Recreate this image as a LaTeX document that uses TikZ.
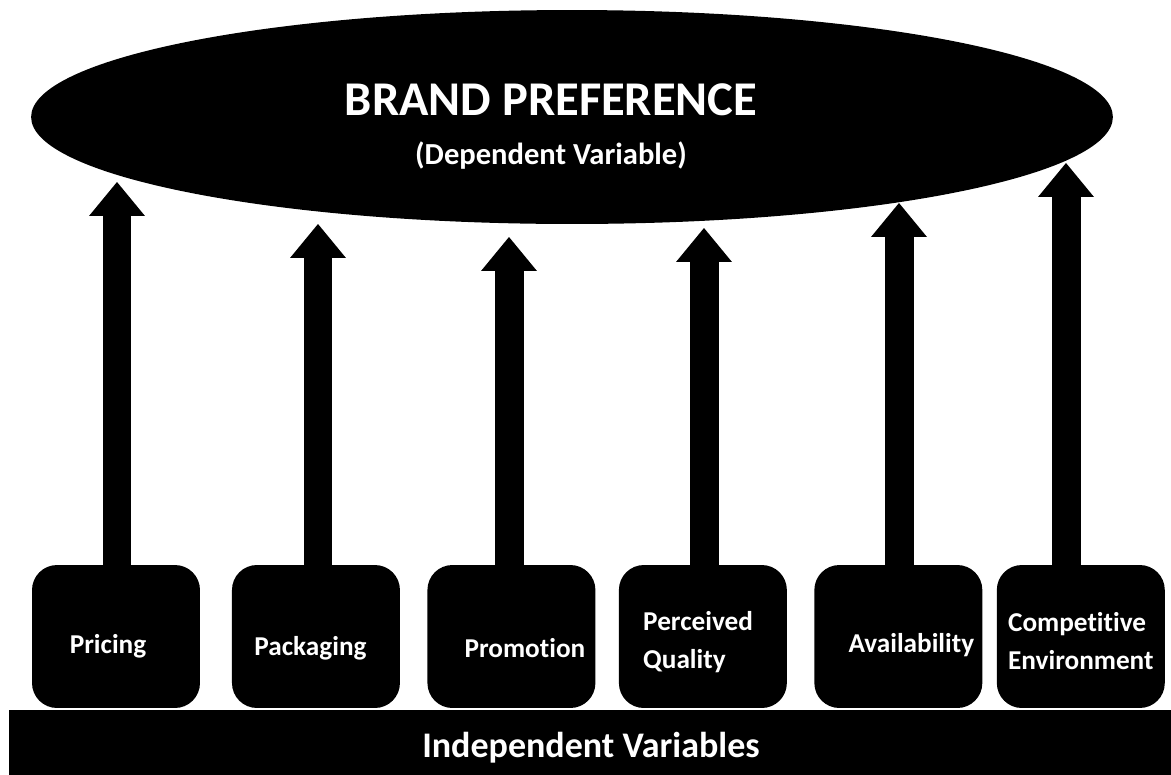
\documentclass[tikz,border=0pt]{standalone}
\usepackage{fontspec}
\setmainfont{Carlito}[Ligatures=NoCommon]
\usetikzlibrary{shapes.geometric, arrows.meta, positioning}
\tikzstyle{goal} = [ellipse, fill=black, minimum width=21.64cm, minimum height=4.28cm, inner sep=0pt]
\tikzstyle{factor} = [rectangle, rounded corners=0.5cm, fill=black, minimum width=3.36cm, minimum height=2.86cm, inner sep=0pt]
\tikzstyle{basebar} = [rectangle, fill=black, minimum width=23.24cm, minimum height=1.3cm, inner sep=0pt]
\tikzstyle{lbl} = [text=white, font=\fontsize{15.5}{21.5}\selectfont\bfseries, inner sep=0pt, align=left]
\tikzstyle{uparrow} = [line width=0.58cm, -{Triangle[width=1.12cm,length=0.68cm,line width=0pt]}]

\begin{document}
\begin{tikzpicture}[x=0.02cm, y=-0.02cm, node distance=4cm, on grid]
	\useasboundingbox (0,0) rectangle (1171,775);
	% dependent variable
	\node[goal] (bp) at (572,117) {};
	\node[lbl, font=\fontsize{27.6}{32}\selectfont\bfseries, anchor=base] (bp_t) at (551,115) {BRAND PREFERENCE};
	\node[lbl, font=\fontsize{17.4}{21}\selectfont\bfseries, anchor=base] (bp_s) at (551,164) {(Dependent Variable)};
	% independent variables
	\node[basebar] (iv) at (590,742.5) {};
	\node[lbl, font=\fontsize{20.5}{24}\selectfont\bfseries, anchor=base] (iv_t) at (591,757) {Independent Variables};
	\node[factor] (f_1) at (116,636.5) {};
	\node[factor][right=of f_1] (f_2) {};
	\node[factor][right=3.91cm of f_2] (f_3) {};
	\node[factor][right=3.83cm of f_3] (f_4) {};
	\node[factor][right=3.91cm of f_4] (f_5) {};
	\node[factor][right=3.65cm of f_5] (f_6) {};
	\node[lbl, anchor=base] (l_1) at ([shift={(-8,16.5)}]f_1.center) {Pricing};
	\node[lbl, anchor=base] (l_2) at ([shift={(-5.5,18.5)}]f_2.center) {Packaging};
	\node[lbl, anchor=base] (l_3) at ([shift={(13.5,20.5)}]f_3.center) {Promotion};
	\node[lbl, anchor=north west] (l_4) at ([shift={(-60,-25)}]f_4.center) {Perceived\\Quality};
	\node[lbl, anchor=base] (l_5) at ([shift={(13,15.5)}]f_5.center) {Availability};
	\node[lbl, anchor=north west] (l_6) at ([shift={(-73,-24)}]f_6.center) {Competitive\\Environment};
	% arrow tips
	\coordinate (t_1) at (117,182);
	\coordinate (t_2) at (318,224);
	\coordinate (t_3) at (509,237);
	\coordinate (t_4) at (704,228);
	\coordinate (t_5) at (899,203);
	\coordinate (t_6) at (1066,163);
	\path[uparrow]
	(f_1.north -| t_1) edge (t_1)
	(f_2.north -| t_2) edge (t_2)
	(f_3.north -| t_3) edge (t_3)
	(f_4.north -| t_4) edge (t_4)
	(f_5.north -| t_5) edge (t_5)
	(f_6.north -| t_6) edge (t_6);
\end{tikzpicture}
\end{document}
